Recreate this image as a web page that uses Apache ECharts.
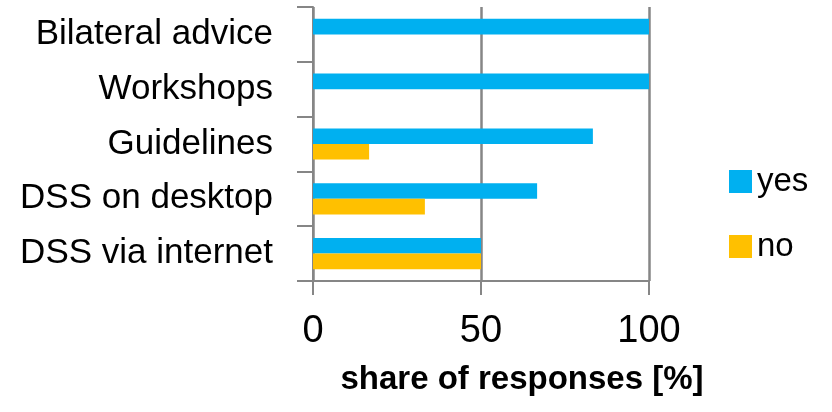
<!DOCTYPE html>
<html>
<head>
<meta charset="utf-8">
<script src="https://cdn.jsdelivr.net/npm/echarts@6/dist/echarts.min.js"></script>
<style>
  html, body { margin: 0; padding: 0; background: #ffffff; }
  #chart { width: 832px; height: 412px; }
</style>
</head>
<body>
<div id="chart"></div>
<script>
// Survey: which kinds of support were used
const categories = ['Bilateral advice', 'Workshops', 'Guidelines', 'DSS on desktop', 'DSS via internet'];
const yesShare = [100, 100, 83.3, 66.7, 50];
const noShare = [0, 0, 16.7, 33.3, 50];
const xTicks = [0, 50, 100];
const axisTitle = 'share of responses [%]';

const gray = '#868686';
const font = 'Liberation Sans, Arial, sans-serif';
const chart = echarts.init(document.getElementById('chart'), null, { renderer: 'canvas' });

chart.setOption({
  animation: false,
  backgroundColor: '#ffffff',
  textStyle: { fontFamily: font },
  title: {
    text: axisTitle,
    left: 517,
    top: 358,
    textAlign: 'center',
    textStyle: { fontSize: 33, fontWeight: 'bold', color: '#000', fontFamily: font }
  },
  legend: {
    orient: 'vertical',
    left: 724,
    top: 160,
    itemWidth: 23,
    itemHeight: 23,
    itemGap: 32,
    icon: 'rect',
    textStyle: { fontSize: 33, color: '#000', lineHeight: 32 },
    data: ['yes', 'no']
  },
  grid: { left: 313, right: 183, top: 7, bottom: 131, containLabel: false },
  xAxis: {
    type: 'value',
    min: xTicks[0],
    max: xTicks[xTicks.length - 1],
    interval: xTicks[1] - xTicks[0],
    axisLine: { show: true, lineStyle: { color: gray, width: 2 } },
    axisTick: { show: true, length: 14, lineStyle: { color: gray, width: 2 } },
    splitLine: { show: true, lineStyle: { color: gray, width: 2.5 } },
    axisLabel: { margin: 32, fontSize: 38, color: '#000' }
  },
  yAxis: {
    type: 'category',
    inverse: true,
    data: categories,
    axisLine: { show: true, lineStyle: { color: gray, width: 2 } },
    axisTick: { show: true, length: 16, interval: 0, lineStyle: { color: gray, width: 2 } },
    axisLabel: { margin: 40, fontSize: 35, color: '#000', interval: 0 }
  },
  series: [
    {
      name: 'yes',
      type: 'bar',
      data: yesShare,
      itemStyle: { color: '#00B0F0' },
      barGap: '0%',
      barCategoryGap: '43%'
    },
    {
      name: 'no',
      type: 'bar',
      data: noShare,
      itemStyle: { color: '#FFC000' },
      barGap: '0%',
      barCategoryGap: '43%'
    }
  ]
});
</script>
</body>
</html>
